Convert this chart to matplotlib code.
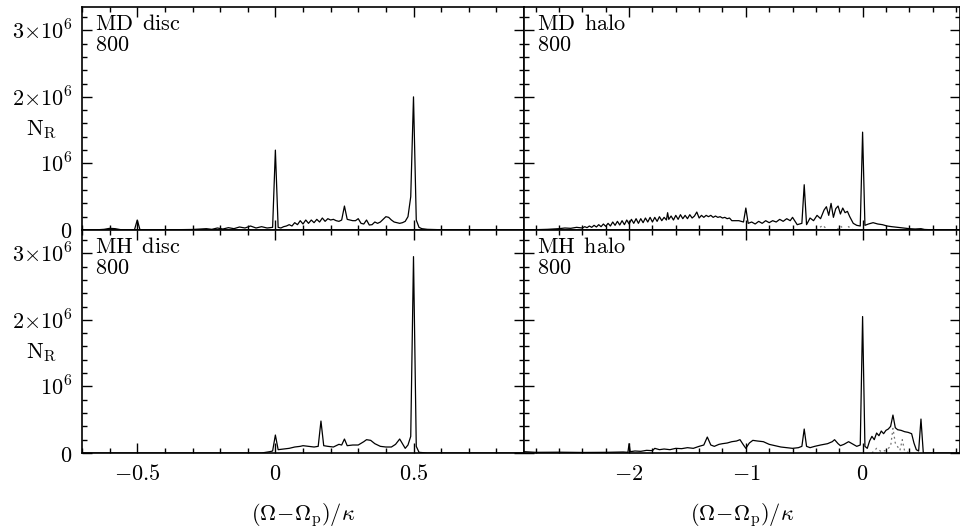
import numpy as np
import matplotlib
matplotlib.use("Agg")
from matplotlib import pyplot as plt
from matplotlib.ticker import MultipleLocator, FixedLocator

plt.rcParams["mathtext.fontset"] = "cm"
plt.rcParams["font.family"] = "serif"
plt.rcParams["font.serif"] = ["DejaVu Serif"]

# Dane (wartosci N_R w jednostkach 10^6)
md_disc_x = [-0.70, -0.65, -0.62, -0.60, -0.58, -0.56, -0.51, -0.50, -0.49, -0.45,
             -0.40, -0.35, -0.30, -0.27, -0.25, -0.23, -0.21, -0.19, -0.17, -0.15,
             -0.13, -0.11, -0.09, -0.07, -0.05, -0.03, -0.01, 0.00, 0.01, 0.02,
             0.03, 0.04, 0.05, 0.06, 0.07, 0.08, 0.09, 0.10, 0.11, 0.12,
             0.13, 0.14, 0.15, 0.16, 0.17, 0.18, 0.19, 0.20, 0.21, 0.22,
             0.23, 0.24, 0.25, 0.26, 0.27, 0.28, 0.29, 0.30, 0.31, 0.32,
             0.33, 0.34, 0.35, 0.36, 0.37, 0.38, 0.39, 0.40, 0.41, 0.42,
             0.43, 0.44, 0.45, 0.46, 0.47, 0.48, 0.49, 0.50, 0.51, 0.52,
             0.53, 0.55, 0.60, 0.70, 0.90]
md_disc_y = [0.0, 0.002, 0.01, 0.025, 0.02, 0.005, 0.003, 0.15, 0.003, 0.003,
             0.004, 0.005, 0.008, 0.015, 0.02, 0.01, 0.03, 0.015, 0.035, 0.02,
             0.045, 0.03, 0.06, 0.03, 0.05, 0.03, 0.04, 1.20, 0.04, 0.03,
             0.05, 0.06, 0.08, 0.06, 0.11, 0.08, 0.14, 0.09, 0.15, 0.10,
             0.15, 0.11, 0.16, 0.12, 0.18, 0.13, 0.17, 0.15, 0.16, 0.14,
             0.13, 0.15, 0.36, 0.16, 0.15, 0.14, 0.14, 0.17, 0.10, 0.09,
             0.15, 0.075, 0.08, 0.12, 0.10, 0.12, 0.16, 0.20, 0.19, 0.15,
             0.12, 0.11, 0.10, 0.11, 0.13, 0.20, 0.50, 2.00, 0.15, 0.04,
             0.02, 0.01, 0.004, 0.0, 0.0]

md_halo_x = [-2.90, -2.80, -2.70, -2.60, -2.55, -2.50, -2.45,
             -2.40, -2.38, -2.36, -2.34, -2.32, -2.30, -2.28, -2.26, -2.24, -2.22,
             -2.20, -2.18, -2.16, -2.14, -2.12, -2.10, -2.08, -2.06, -2.04, -2.02,
             -2.00, -1.98, -1.96, -1.94, -1.92, -1.90, -1.88, -1.86, -1.84, -1.82,
             -1.80, -1.78, -1.76, -1.74, -1.72, -1.70, -1.68, -1.67, -1.66, -1.64,
             -1.62, -1.60, -1.58, -1.56, -1.54, -1.52, -1.50, -1.48, -1.46, -1.44,
             -1.42, -1.40, -1.38, -1.36, -1.34, -1.32, -1.30, -1.28, -1.26, -1.24,
             -1.22, -1.20, -1.18, -1.16, -1.14, -1.12, -1.10,
             -1.06, -1.02, -1.00, -0.98, -0.95, -0.92, -0.89, -0.86, -0.83, -0.80,
             -0.77, -0.74, -0.71, -0.68, -0.65, -0.62, -0.60, -0.56, -0.52, -0.50,
             -0.48, -0.45, -0.42, -0.39, -0.36, -0.33, -0.31, -0.29, -0.27, -0.25,
             -0.23, -0.21, -0.19, -0.17, -0.15, -0.13, -0.11, -0.08, -0.05, -0.02,
             0.00, 0.02, 0.05, 0.09, 0.13, 0.17, 0.21, 0.25, 0.30, 0.35,
             0.40, 0.45, 0.50, 0.53, 0.60, 0.70, 0.83]
md_halo_y = [0.0, 0.005, 0.01, 0.02, 0.03, 0.025, 0.04,
             0.03, 0.05, 0.035, 0.06, 0.04, 0.07, 0.045, 0.08, 0.05, 0.09,
             0.055, 0.10, 0.06, 0.12, 0.07, 0.13, 0.075, 0.14, 0.08, 0.15,
             0.09, 0.16, 0.10, 0.17, 0.10, 0.17, 0.11, 0.18, 0.12, 0.19,
             0.12, 0.19, 0.13, 0.20, 0.14, 0.19, 0.15, 0.26, 0.16, 0.21,
             0.15, 0.22, 0.16, 0.23, 0.17, 0.22, 0.17, 0.23, 0.18, 0.21,
             0.27, 0.18, 0.22, 0.19, 0.22, 0.20, 0.22, 0.19, 0.21, 0.19,
             0.20, 0.18, 0.19, 0.17, 0.18, 0.14, 0.14,
             0.14, 0.12, 0.33, 0.10, 0.12, 0.09, 0.13, 0.10, 0.14, 0.11,
             0.14, 0.12, 0.16, 0.13, 0.17, 0.14, 0.19, 0.08, 0.10, 0.68,
             0.08, 0.18, 0.14, 0.22, 0.17, 0.30, 0.35, 0.22, 0.40, 0.19,
             0.32, 0.36, 0.24, 0.33, 0.26, 0.28, 0.20, 0.10, 0.07, 0.06,
             1.47, 0.07, 0.09, 0.11, 0.09, 0.08, 0.06, 0.05, 0.04, 0.03,
             0.02, 0.015, 0.02, 0.008, 0.003, 0.0, 0.0]
md_halo_dot_x = [-0.40, -0.34, -0.30, -0.22, -0.19, -0.15, -0.12, -0.08]
md_halo_dot_y = [0.0, 0.07, 0.0, 0.0, 0.06, 0.0, 0.05, 0.0]

mh_disc_x = [-0.70, -0.05, -0.02, -0.01, 0.00, 0.01, 0.03, 0.05, 0.07, 0.09,
             0.10, 0.12, 0.14, 0.155, 0.165, 0.175, 0.19, 0.21, 0.23, 0.24,
             0.25, 0.26, 0.28, 0.30, 0.32, 0.33, 0.345, 0.36, 0.38, 0.40,
             0.42, 0.435, 0.45, 0.46, 0.47, 0.48, 0.49, 0.50, 0.51, 0.52,
             0.55, 0.90]
mh_disc_y = [0.0, 0.0, 0.02, 0.03, 0.27, 0.05, 0.06, 0.07, 0.09, 0.10,
             0.11, 0.10, 0.09, 0.10, 0.48, 0.11, 0.10, 0.09, 0.13, 0.12,
             0.21, 0.11, 0.12, 0.12, 0.17, 0.20, 0.19, 0.14, 0.10, 0.09,
             0.09, 0.13, 0.21, 0.14, 0.07, 0.12, 0.25, 2.95, 0.10, 0.01,
             0.0, 0.0]

mh_halo_x = [-2.90, -2.80, -2.60, -2.40, -2.20, -2.05, -2.01, -2.00, -1.99, -1.95,
             -1.90, -1.85, -1.80, -1.78, -1.74, -1.70, -1.65, -1.60, -1.55, -1.50,
             -1.45, -1.40, -1.36, -1.33, -1.30, -1.27, -1.23, -1.20, -1.16, -1.12,
             -1.08, -1.05, -1.02, -1.00, -0.97, -0.94, -0.90, -0.85, -0.80, -0.75,
             -0.70, -0.65, -0.60, -0.55, -0.52, -0.50, -0.48, -0.45, -0.41, -0.36,
             -0.30, -0.26, -0.24, -0.21, -0.19, -0.16, -0.12, -0.09, -0.05, -0.02,
             0.00, 0.02, 0.04, 0.06, 0.08, 0.10, 0.12, 0.14, 0.16, 0.18,
             0.20, 0.22, 0.24, 0.26, 0.28, 0.30, 0.33, 0.36, 0.39, 0.42,
             0.44, 0.46, 0.48, 0.50, 0.52, 0.60, 0.83]
mh_halo_y = [0.02, 0.01, 0.012, 0.008, 0.01, 0.015, 0.01, 0.14, 0.02, 0.03,
             0.025, 0.04, 0.035, 0.07, 0.05, 0.06, 0.05, 0.07, 0.065, 0.08,
             0.07, 0.10, 0.12, 0.24, 0.12, 0.10, 0.13, 0.14, 0.15, 0.17,
             0.18, 0.20, 0.12, 0.07, 0.15, 0.19, 0.18, 0.17, 0.13, 0.11,
             0.09, 0.08, 0.07, 0.08, 0.10, 0.36, 0.10, 0.08, 0.10, 0.12,
             0.14, 0.17, 0.20, 0.14, 0.11, 0.13, 0.17, 0.14, 0.10, 0.12,
             2.05, 0.10, 0.07, 0.18, 0.25, 0.20, 0.30, 0.26, 0.33, 0.29,
             0.34, 0.36, 0.40, 0.57, 0.38, 0.35, 0.34, 0.32, 0.31, 0.29,
             0.15, 0.05, 0.03, 0.51, 0.0, 0.0, 0.0]
mh_halo_dot_x = [0.08, 0.12, 0.16, 0.20, 0.24, 0.26, 0.28, 0.32, 0.34, 0.36, 0.40]
mh_halo_dot_y = [0.0, 0.07, 0.02, 0.04, 0.10, 0.37, 0.15, 0.04, 0.20, 0.03, 0.0]

panels = [
    ("MD disc", md_disc_x, md_disc_y, None, None),
    ("MD halo", md_halo_x, md_halo_y, md_halo_dot_x, md_halo_dot_y),
    ("MH disc", mh_disc_x, mh_disc_y, None, None),
    ("MH halo", mh_halo_x, mh_halo_y, mh_halo_dot_x, mh_halo_dot_y),
]

W, H = 960, 532
fig = plt.figure(figsize=(W / 100, H / 100), dpi=100)

# pozycje paneli w pikselach: (lewo, gora, prawo, dol)
boxes = [(82, 7, 524, 230), (524, 7, 959.5, 230),
         (82, 230, 524, 453), (524, 230, 959.5, 453)]

ytick_vals = [0, 1e6, 2e6, 3e6]
ytick_labels = [r"$0$", r"$10^6$", r"$2{\times}10^6$", r"$3{\times}10^6$"]

for i, (name, xs, ys, dx, dy) in enumerate(panels):
    l, t, r, b = boxes[i]
    ax = fig.add_axes([l / W, 1 - b / H, (r - l) / W, (b - t) / H])
    ax.plot(xs, np.array(ys) * 1e6, color="black", lw=0.9)
    if dx is not None:
        ax.plot(dx, np.array(dy) * 1e6, color="0.45", lw=0.9, ls=(0, (1.5, 2.5)))
    left_col = i % 2 == 0
    bottom_row = i >= 2
    if left_col:
        ax.set_xlim(-0.7, 0.9)
        ax.xaxis.set_major_locator(FixedLocator([-0.5, 0, 0.5]))
        ax.xaxis.set_minor_locator(MultipleLocator(0.1))
        xl = [r"$-0.5$", r"$0$", r"$0.5$"]
    else:
        ax.set_xlim(-2.9, 0.83)
        ax.xaxis.set_major_locator(FixedLocator([-2, -1, 0]))
        ax.xaxis.set_minor_locator(MultipleLocator(0.2))
        xl = [r"$-2$", r"$-1$", r"$0$"]
    ax.set_ylim(0, 3.35e6)
    ax.yaxis.set_major_locator(FixedLocator(ytick_vals))
    ax.yaxis.set_minor_locator(MultipleLocator(0.2e6))
    ax.tick_params(which="both", direction="in", top=True, right=True, width=1.0)
    ax.tick_params(which="major", length=7, labelsize=16, pad=7)
    ax.tick_params(which="minor", length=3.5)
    if bottom_row:
        ax.set_xticklabels(xl)
        xc = (l + r) / 2 / W
        fig.text(xc, 1 - 515 / H, r"$(\Omega\!-\!\Omega_{\rm p})/\kappa$",
                 fontsize=16, ha="center", va="center")
    else:
        ax.set_xticklabels([])
    if left_col:
        ax.set_yticklabels(ytick_labels)
        fig.text(42 / W, 1 - (t + 123) / H, r"$\rm N_R$", fontsize=16,
                 ha="center", va="center")
    else:
        ax.set_yticklabels([])
    for s in ax.spines.values():
        s.set_linewidth(1.2)
    ax.text(13 / (r - l), 1 - 6 / (b - t),
            r"$\rm " + name.replace(" ", r"\ \,") + r"$" + "\n" + r"$800$",
            transform=ax.transAxes, ha="left", va="top", fontsize=16, linespacing=0.95)

fig.savefig("out.png", dpi=100)
